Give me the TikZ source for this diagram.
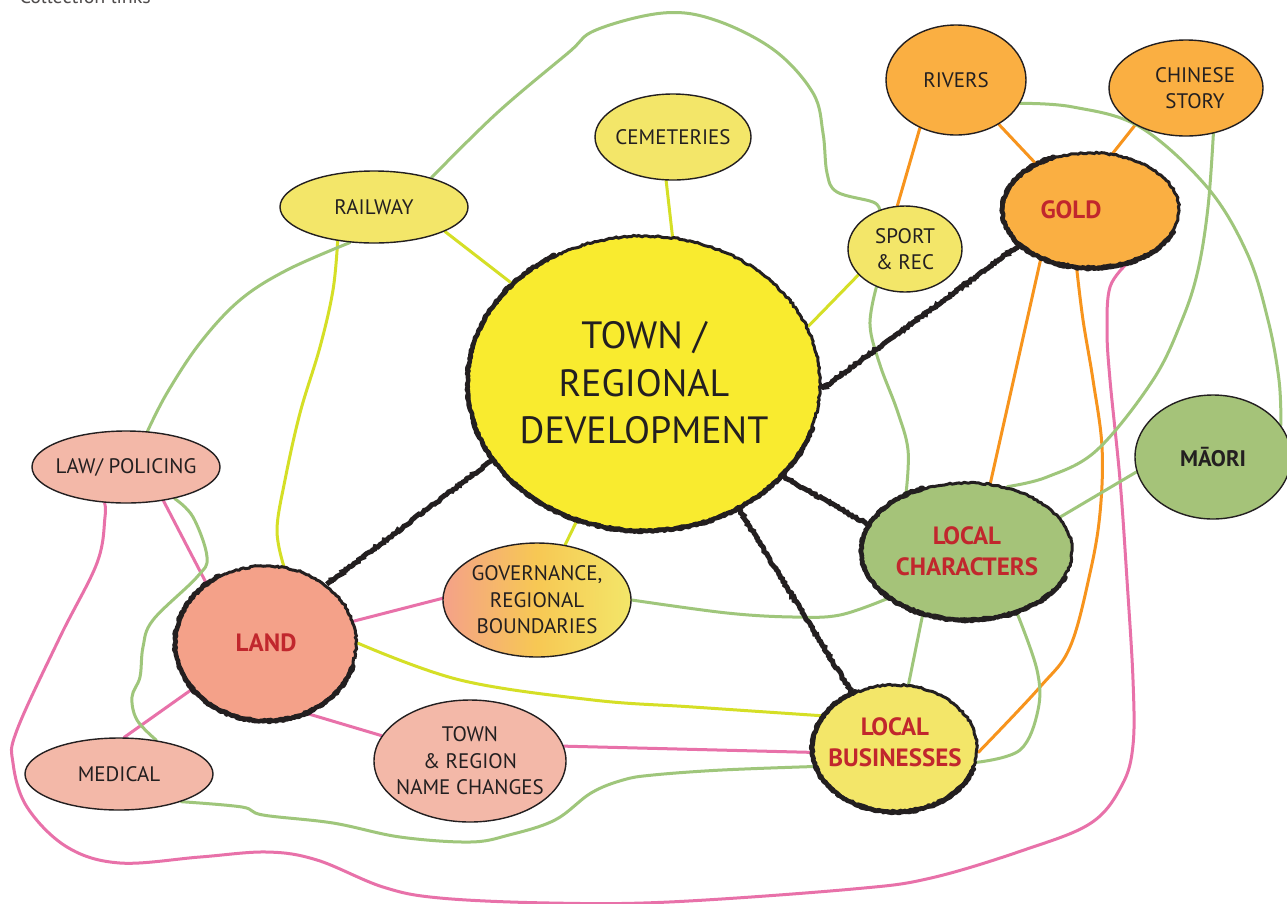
\documentclass[tikz,border=0pt]{standalone}
\usepackage{fontspec}
\setmainfont{PT Sans}
\usetikzlibrary{shapes.geometric,decorations.pathmorphing}
\pgfdeclarelayer{bg}
\pgfdeclarelayer{lines}
\pgfsetlayers{bg,lines,main}
\definecolor{ink}{HTML}{231F20}
\definecolor{yelmain}{HTML}{F9EB2F}
\definecolor{yelpale}{HTML}{F3E669}
\definecolor{orng}{HTML}{FAAF42}
\definecolor{grn}{HTML}{A5C379}
\definecolor{salm}{HTML}{F3B8A8}
\definecolor{landc}{HTML}{F4A189}
\definecolor{redt}{HTML}{C1272D}
\definecolor{lineY}{HTML}{D5DF26}
\definecolor{lineG}{HTML}{9FC67B}
\definecolor{lineP}{HTML}{E871A9}
\definecolor{lineO}{HTML}{F7941D}
\begin{document}
\begin{tikzpicture}[x=1pt,y=-1pt,
  bub/.style={ellipse, draw=ink, line width=1.4pt, inner ysep=0pt, inner xsep=-20pt, align=center, text=ink,
    font=\fontsize{21}{26.5}\selectfont},
  rough/.style={ellipse, draw=ink, line width=3pt, inner ysep=0pt, inner xsep=-20pt, align=center,
    decorate, decoration={random steps, segment length=2.5pt, amplitude=0.8pt},
    text=redt, font=\bfseries\fontsize{25}{31}\selectfont},
  brush/.style={draw=ink, line width=4.5pt, line cap=round, line join=round,
    decorate, decoration={random steps, segment length=2pt, amplitude=0.9pt}},
  roughline/.style={draw=ink, line width=5pt,
    decorate, decoration={random steps, segment length=2pt, amplitude=1pt}},
  conn/.style={line width=3pt, line cap=round},
  ly/.style={conn, draw=lineY},
  lg/.style={conn, draw=lineG},
  lp/.style={conn, draw=lineP},
  lo/.style={conn, draw=lineO},
  sm/.style={smooth, tension=0.6}
]
\pgfmathsetseed{7}
\begin{pgfonlayer}{bg}
\fill[white] (0,0) rectangle (1287,903);
\end{pgfonlayer}
\useasboundingbox (0,0) rectangle (1287,903);

\node[anchor=base west, text=ink!80, font=\fontsize{20}{22}\selectfont] (title) at (16,3) {Collection links};

% nodes
\node[rough, fill=yelmain, text=ink, font=\fontsize{38}{47.5}\selectfont,
  minimum width=352, minimum height=294] (town) at (644,383) {TOWN /\\REGIONAL\\DEVELOPMENT};
\node[bub, fill=yelpale, minimum width=156, minimum height=86] (cem) at (673,137) {CEMETERIES};
\node[bub, fill=yelpale, minimum width=188, minimum height=72] (rail) at (374,207) {RAILWAY};
\node[bub, fill=yelpale, minimum width=114, minimum height=86] (sport) at (905,249) {SPORT\\\&~REC};
\node[bub, fill=orng, minimum width=140, minimum height=110] (rivers) at (956,80) {RIVERS};
\node[bub, fill=orng, minimum width=154, minimum height=96] (chinese) at (1186,88) {\hspace*{18pt}CHINESE\\\hspace*{18pt}STORY};
\node[rough, fill=orng, minimum width=176, minimum height=114] (gold) at (1091,210) {GOLD\hspace*{40pt}};
\node[bub, fill=grn, minimum width=156, minimum height=124, font=\bfseries\fontsize{22.5}{26}\selectfont] (maori) at (1213,457) {MĀORI};
\node[rough, fill=grn, minimum width=210, minimum height=136] (lc) at (967,551) {LOCAL\\CHARACTERS};
\node[rough, fill=yelpale, minimum width=164, minimum height=126] (lb) at (895,748) {LOCAL\\BUSINESSES\\[-19pt]};
\node[bub, left color=landc, right color=yelpale, middle color=orng!55!yelpale, minimum width=188, minimum height=114] (gov) at (537,600) {GOVERNANCE,\\REGIONAL\\BOUNDARIES};
\node[rough, fill=landc, minimum width=180, minimum height=154] (land) at (266,643) {LAND};
\node[bub, fill=salm, minimum width=188, minimum height=72] (law) at (126,467) {LAW/ POLICING};
\node[bub, fill=salm, minimum width=188, minimum height=72] (med) at (119,774) {MEDICAL};
\node[bub, fill=salm, minimum width=192, minimum height=122] (names) at (470,761) {TOWN\\\&~REGION\\NAME CHANGES};

% heavier brush strokes on the lower-left side of the rough rings
\foreach \n in {town,gold,lc,lb,land}{
  \draw[brush] (\n.125) \foreach \a in {135,145,...,345}{ -- (\n.\a) };
}

\begin{pgfonlayer}{lines}
% yellow-green links
\draw[ly] (rail.-19) -- (town.143);
\draw[ly] (cem.-99) -- (town.79);
\draw[ly] (sport.209) -- (town.19);
\draw[ly] (gov.63) -- (town.-116);
\draw[ly] plot[sm] coordinates {(rail.-137) (333,290) (320,347) (300,413) (285,480) (277,530) (land.77)};
\draw[ly] plot[sm] coordinates {(land.0) (460,680) (593,700) (693,707) (lb.156)};
% pink links
\draw[lp] (law.-42) -- (land.135);
\draw[lp] (land.14) -- (gov.179);
\draw[lp] (land.-60) -- (names.164);
\draw[lp] (med.82) -- (land.-148);
\draw[lp] (names.9) -- (lb.183);
\draw[lp] plot[sm] coordinates {(gold.-56) (1110,287) (1107,330) (1110,380) (1120,480) (1127,580) (1133,680) (1133,745) (1122,785) (1091,823) (1024,850) (931,878) (853,889) (669,902) (550,903) (440,898) (383,887) (317,860) (267,852) (200,857) (120,863) (67,847) (27,807) (13,763) (17,730) (60,637) (97,563) (105,517) (law.-121)};
% orange links
\draw[lo] (rivers.-127) -- (sport.100);
\draw[lo] (rivers.-46) -- (gold.140);
\draw[lo] (chinese.-144) -- (gold.69);
\draw[lo] (gold.-136) -- (lc.71);
\draw[lo] plot[sm] coordinates {(gold.-104) (1083,320) (1093,380) (1102,447) (1100,513) (1090,573) (1070,647) (1040,687) (lb.-3)};
% green links
\draw[lg] (maori.191) -- (lc.20);
\draw[lg] (lc.-125) -- (lb.78);
\draw[lg] plot[sm] coordinates {(rail.27) (497,113) (568,53) (596,30) (663,13) (715,20) (774,50) (813,93) (823,133) (827,173) (837,192) (873,202) (sport.123)};
\draw[lg] plot[sm] coordinates {(rail.-124) (287,270) (240,300) (200,343) (167,393) (law.59)};
\draw[lg] plot[sm] coordinates {(law.-33) (193,517) (207,557) (197,577) (153,620) (143,647) (140,677) (132,697) (137,720) (med.42)};
\draw[lg] plot[sm] coordinates {(med.-24) (242,807) (263,815) (333,823) (400,837) (470,842) (509,835) (555,820) (591,793) (623,780) (653,775) (722,770) (lb.-167)};
\draw[lg] plot[sm] coordinates {(gov.0) (727,613) (793,617) (840,615) (lc.-149)};
\draw[lg] plot[sm] coordinates {(sport.-127) (870,325) (880,365) (897,410) (908,450) (lc.137)};
\draw[lg] plot[sm] coordinates {(rivers.-20) (1073,107) (1140,127) (1207,187) (1247,253) (1268,320) (1279,380) (maori.25)};
\draw[lg] plot[sm] coordinates {(chinese.-59) (1208,207) (1198,270) (1182,320) (1153,380) (1097,450) (1047,477) (lc.58)};
\draw[lg] plot[sm] coordinates {(lc.-51) (1037,670) (1038,710) (1020,750) (lb.-10)};
% black rough links
\draw[roughline] (town.-2) -- (gold.206);
\draw[roughline] (town.-34) -- (lc.165);
\draw[roughline] (town.-53) -- (lb.128);
\draw[roughline] (town.207) -- (land.44);
\end{pgfonlayer}
\end{tikzpicture}
\end{document}
